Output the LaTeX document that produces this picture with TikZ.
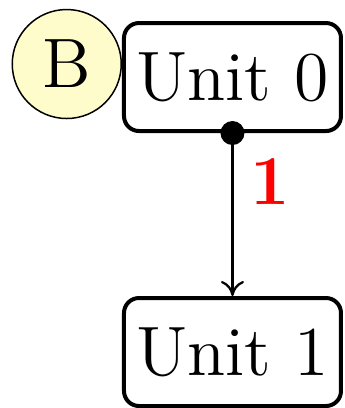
\documentclass[tikz,border=0pt]{standalone}
\usepackage{tikz}
\usetikzlibrary{positioning,arrows.meta}

\begin{document}
\begin{tikzpicture}[x=1pt,y=1pt,
	unit/.style={draw,line width=0.8pt,rounded corners=3pt,minimum width=43.4pt,minimum height=21.6pt,inner sep=0pt,font=\fontsize{14}{16}\selectfont},
	bubble/.style={draw,circle,line width=0.3pt,fill=yellow!20,minimum size=21.8pt,inner sep=0pt,font=\fontsize{14}{16}\selectfont}]
\useasboundingbox (0,0) rectangle (69,-81.6);
%units
\node[unit] (u0) at (46.5,-15.4) {Unit 0};
\node[unit,below=32.6pt of u0] (u1) {Unit 1};
%bubble
\node[bubble,left=0pt of u0,yshift=2.6pt] (b) {B};
%link
\fill (u0.south) circle (2.4pt);
\draw[-{To[length=3pt,width=4.6pt]},line width=0.45pt] (u0.south) -- (u1.north)
	node[right,pos=0.3,text=red,font=\fontsize{14}{16}\selectfont\bfseries] (w) {1};
\end{tikzpicture}
\end{document}
